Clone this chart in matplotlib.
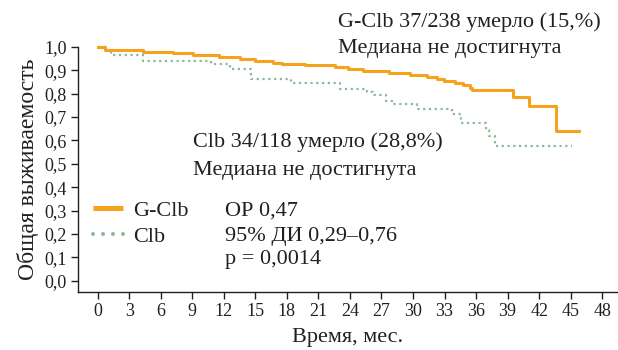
import matplotlib
matplotlib.use("Agg")
import matplotlib.pyplot as plt
from matplotlib.lines import Line2D

# Kaplan-Meier curves (months, survival)
gclb_t = [0, 0.7, 4.3, 7.2, 9.1, 11.5, 13.5, 15.0, 16.7, 17.5, 19.7, 22.6, 23.8,
          25.2, 27.7, 29.7, 31.3, 32.3, 32.9, 34.0, 34.8, 35.4, 35.6, 39.5, 41.0,
          43.6, 45.8]
gclb_s = [1.0, 0.988, 0.977, 0.971, 0.964, 0.954, 0.946, 0.937, 0.931, 0.927, 0.920,
          0.913, 0.903, 0.895, 0.886, 0.878, 0.871, 0.863, 0.853, 0.846, 0.835, 0.824,
          0.813, 0.786, 0.746, 0.641, 0.641]

clb_t = [0, 0.9, 1.3, 4.3, 10.8, 12.6, 14.6, 18.4, 23.1, 25.6, 26.2, 27.4, 28.1,
         30.4, 33.7, 34.6, 36.9, 37.2, 37.8, 45.1]
clb_s = [1.0, 0.985, 0.963, 0.938, 0.927, 0.906, 0.863, 0.846, 0.821, 0.807, 0.793,
         0.767, 0.757, 0.734, 0.714, 0.674, 0.646, 0.617, 0.577, 0.577]

x_ticks = list(range(0, 49, 3))
y_ticks = [i / 10 for i in range(11)]

orange = '#F6A21C'
green = '#8DB894'
txt = '#231F20'

plt.rcParams['font.family'] = ['Liberation Serif', 'DejaVu Serif']

fig = plt.figure(figsize=(6.18, 3.5), dpi=100)
ax = fig.add_axes([78 / 618, 1 - 291.7 / 350, 1 - 78 / 618, (291.7 - 46.7) / 350])

ax.plot(gclb_t, gclb_s, drawstyle='steps-post', color=orange, lw=2.2,
        clip_on=False, zorder=3)
ax.plot(clb_t, clb_s, drawstyle='steps-post', color=green, lw=1.6,
        linestyle=(0, (1, 1.6)), clip_on=False, zorder=2)

ax.set_xlim(-1.87, 49.5)
ax.set_ylim(-0.047, 1.0)
ax.set_xticks(x_ticks)
ax.set_xticklabels([str(v) for v in x_ticks])
ax.set_yticks(y_ticks)
ax.set_yticklabels([f"{v:.1f}".replace('.', ',') for v in y_ticks])
for s in ['top', 'right']:
    ax.spines[s].set_visible(False)
for s in ['left', 'bottom']:
    ax.spines[s].set_color(txt)
    ax.spines[s].set_linewidth(1.0)
ax.tick_params(length=5, width=1.0, color=txt, labelsize=13, labelcolor=txt, pad=3)

ax.set_xlabel("Время, мес.", fontsize=16, color=txt, labelpad=6)
ax.set_ylabel("Общая выживаемость", fontsize=17, color=txt, labelpad=4)

# legend
h1 = Line2D([], [], color=orange, lw=3.6, solid_capstyle='butt')
h2 = Line2D([], [], color=green, lw=2.9, linestyle=(0, (0.01, 2.47)),
            dash_capstyle='round')
ax.legend([h1, h2], ["G-Clb", "Clb"], loc='upper left', frameon=False,
          bbox_to_anchor=(93 / 618, 1 - 200 / 350), bbox_transform=fig.transFigure,
          fontsize=16, handlelength=1.35, handletextpad=0.45, labelspacing=0.25,
          borderpad=0, borderaxespad=0, labelcolor=txt)


def ftext(x, y, s):
    fig.text(x / 618, 1 - y / 350, s, fontsize=16, color=txt, ha='left', va='baseline')


ftext(338, 27, "G-Clb 37/238 умерло (15,%)")
ftext(338, 53.5, "Медиана не достигнута")
ftext(193, 147.3, "Clb 34/118 умерло (28,8%)")
ftext(193, 175, "Медиана не достигнута")
ftext(225, 216, "ОР 0,47")
ftext(225, 240.7, "95% ДИ 0,29–0,76")
ftext(225, 264, "p = 0,0014")

fig.savefig("out.png", dpi=100)
